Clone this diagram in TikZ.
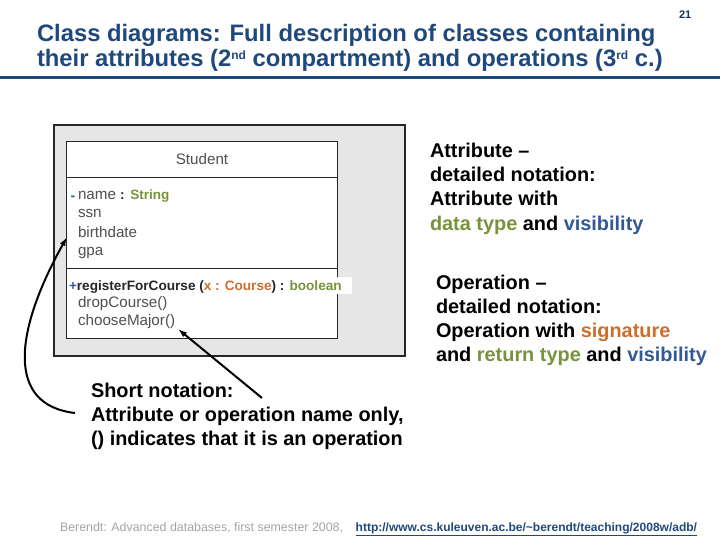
\documentclass[tikz,border=0pt]{standalone}
\usepackage{fontspec}
\setmainfont{Liberation Sans}
\usetikzlibrary{arrows.meta}
\definecolor{titleblue}{RGB}{31,73,125}
\definecolor{olivegr}{RGB}{119,147,60}
\definecolor{orng}{RGB}{205,110,45}
\definecolor{visblue}{RGB}{49,89,150}
\definecolor{umlgray}{RGB}{80,80,80}
\definecolor{panelgray}{RGB}{230,230,230}
\definecolor{footgray}{RGB}{165,165,165}
\newcommand{\supx}[1]{\raisebox{7.5pt}{\fontsize{12}{12}\selectfont #1}}
\tikzset{
  txt/.style={anchor=base west, inner sep=0pt, outer sep=0pt},
  titletxt/.style={txt, font=\fontsize{23.8}{26}\selectfont\bfseries, text=titleblue},
  desc/.style={txt, font=\fontsize{19.9}{24}\selectfont\bfseries, text=black},
  uml/.style={txt, font=\fontsize{15.2}{17}\selectfont, text=umlgray},
  umlb/.style={txt, font=\fontsize{13.6}{16}\selectfont\bfseries, text=black!85},
  arr/.style={line width=2pt, -{Latex[length=9pt,width=6pt]}},
}
\begin{document}
\begin{tikzpicture}[x=1pt,y=-1pt]
\useasboundingbox (0,0) rectangle (720,540);
\fill[white] (0,0) rectangle (720,540);
% title
\node[titletxt] (t1) at (37,42) {Class diagrams: Full description of classes containing};
\node[titletxt] (t2) at (37,67) {their attributes (2\supx{nd} compartment) and operations (3\supx{rd} c.)};
\node[txt, font=\fontsize{11}{13}\selectfont\bfseries, text=titleblue!70!black] (pg) at (679,19) {21};
\draw[titleblue, line width=3pt] (0,78) -- (720,78);
% panel and class box
\draw[fill=panelgray, line width=1.3pt, draw=black!85] (54,125) rectangle (405,356);
\draw[fill=white, line width=1pt, draw=black!85] (66,142) rectangle (337,338);
\draw[line width=1pt, draw=black!85] (66,178) -- (337,178);
\draw[line width=1pt, draw=black!85] (66,268) -- (337,268);
\node[uml, anchor=base] (cls) at (202,165) {Student};
% attributes
\node[txt, font=\fontsize{14}{16}\selectfont\bfseries, text=visblue] (vis1) at (70.5,201) {-};
\node[uml] (aname) at (78,200) {name {\fontsize{13.5}{15}\selectfont\bfseries\color{black!85}:} {\fontsize{13.5}{15}\selectfont\bfseries\color{olivegr}String}};
\node[uml] (assn) at (78,218) {ssn};
\node[uml] (abd) at (78,237) {birthdate};
\node[uml] (agpa) at (78,255) {gpa};
% operations
\fill[white] (66.6,277) rectangle (352,294);
\node[umlb] (oreg) at (69,290) {{\color{visblue}+}registerForCourse ({\color{orng}x : Course}) : {\color{olivegr}boolean}};
\node[uml] (odrop) at (78,307) {dropCourse()};
\node[uml] (ochoose) at (78,325) {chooseMajor()};
% right descriptions
\node[desc] (d1) at (430,158) {Attribute –};
\node[desc] (d2) at (430,182) {detailed notation:};
\node[desc] (d3) at (430,206) {Attribute with};
\node[desc] (d4) at (430,230) {{\color{olivegr}data type} and {\color{visblue}visibility}};
\node[desc] (e1) at (436,289) {Operation –};
\node[desc] (e2) at (436,313) {detailed notation:};
\node[desc] (e3) at (436,337) {Operation with {\color{orng}signature}};
\node[desc] (e4) at (436,361) {and {\color{olivegr}return type} and {\color{visblue}visibility}};
% short notation
\node[desc] (s1) at (91,397) {Short notation:};
\node[desc] (s2) at (91,421) {Attribute or operation name only,};
\node[desc] (s3) at (91,445) {() indicates that it is an operation};
% arrows
\coordinate (tipA) at (67,237);
\coordinate (tailA) at (75,413);
\draw[arr] (tailA) .. controls (5,405) and (15,330) .. (tipA);
\coordinate (tipB) at (178,329);
\coordinate (tailB) at (262,398);
\draw[arr] (tailB) -- (tipB);
% footer
\node[txt, font=\fontsize{12.4}{14}\selectfont, text=footgray] (f1) at (60,531) {Berendt: Advanced databases, first semester 2008,};
\node[txt, font=\fontsize{12}{14}\selectfont\bfseries, text=titleblue, anchor=base east] (f2) at (697,531) {\underline{http://www.cs.kuleuven.ac.be/\textasciitilde berendt/teaching/2008w/adb/}};
\end{tikzpicture}
\end{document}
